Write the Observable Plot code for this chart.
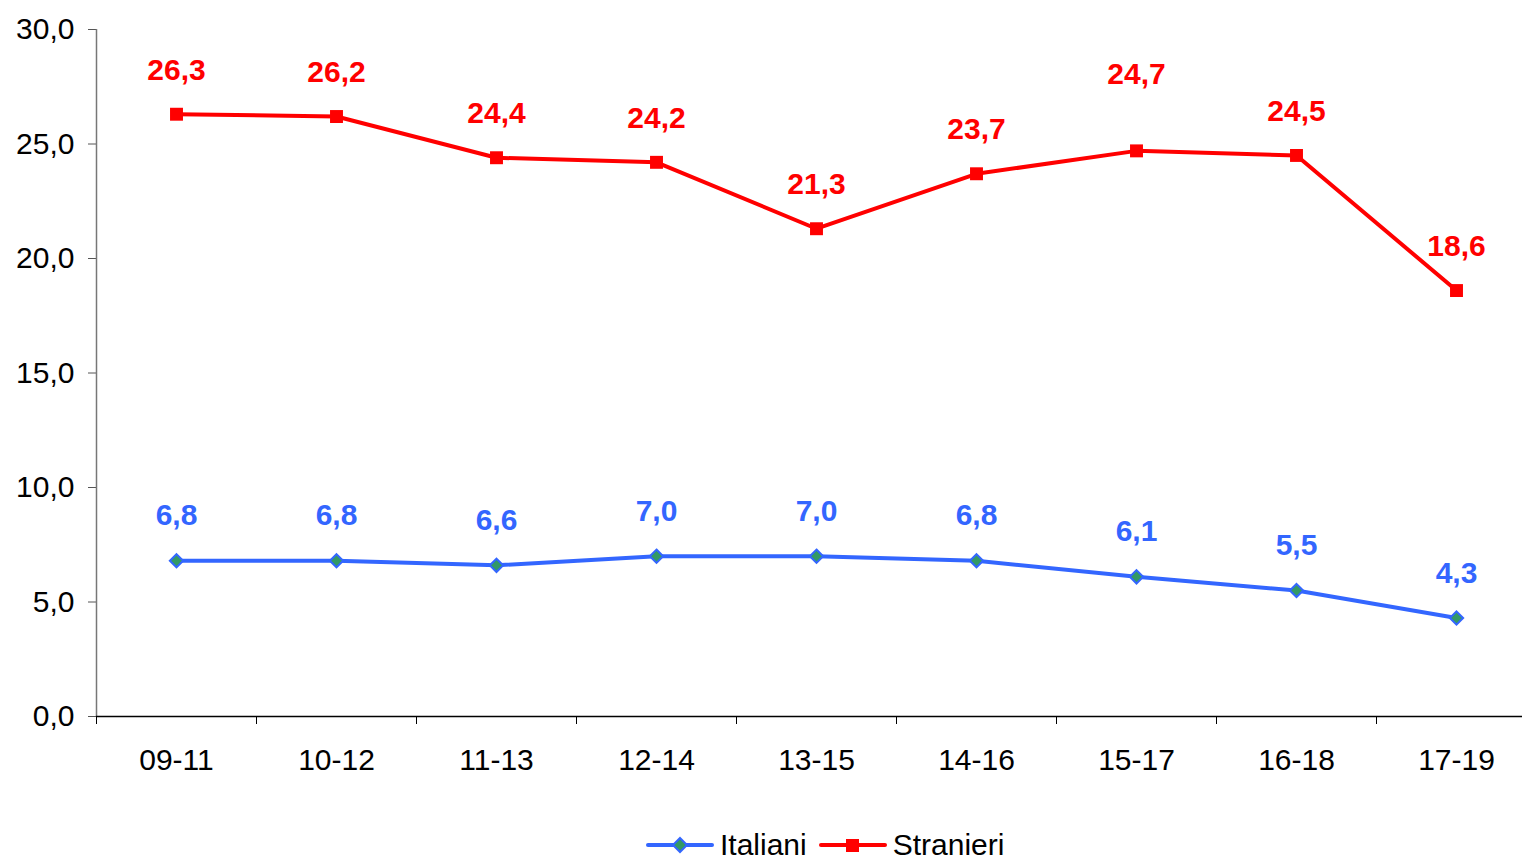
<!DOCTYPE html>
<html>
<head>
<meta charset="utf-8">
<script src="https://cdn.jsdelivr.net/npm/d3@7"></script>
<script src="https://cdn.jsdelivr.net/npm/@observablehq/plot@0.6"></script>
<style>
  body { margin: 0; background: #fff; font-family: "Liberation Sans", Arial, sans-serif; }
  #chart { position: relative; width: 1523px; height: 860px; overflow: hidden; }
  .legend { position: absolute; left: 646px; top: 828px; display: flex; align-items: center; font-size: 30px; color: #000; }
  .legend .item { display: flex; align-items: center; margin-right: 12px; }
  .legend svg { margin-right: 6px; }
</style>
</head>
<body>
<div id="chart"></div>
<script>
const periods = ["09-11", "10-12", "11-13", "12-14", "13-15", "14-16", "15-17", "16-18", "17-19"];
const italiani = [6.8, 6.8, 6.6, 7.0, 7.0, 6.8, 6.1, 5.5, 4.3];
const stranieri = [26.3, 26.2, 24.4, 24.2, 21.3, 23.7, 24.7, 24.5, 18.6];
const yTicks = [0, 5, 10, 15, 20, 25, 30];
const seriesNames = ["Italiani", "Stranieri"];

const blue = "#3366FF";
const red = "#FF0000";
const green = "#339966";

const rows = [];
periods.forEach((p, i) => {
  rows.push({i, period: p, series: seriesNames[0], value: italiani[i]});
  rows.push({i, period: p, series: seriesNames[1], value: stranieri[i]});
});
const it = rows.filter(d => d.series === "Italiani");
const st = rows.filter(d => d.series === "Stranieri");
const fmt = v => v.toFixed(1).replace(".", ",");
// the original chart's plot area runs slightly past the right edge of the picture
const xMax = periods.length - 0.5 - 0.0875;
const boundaries = d3.range(periods.length + 1).map(k => k - 0.5).filter(b => b <= xMax);

const chart = Plot.plot({
  width: 1523,
  height: 800,
  marginLeft: 96,
  marginRight: 1,
  marginTop: 29,
  marginBottom: 84,
  style: {fontFamily: "'Liberation Sans', Arial, sans-serif", fontSize: "30px", color: "#000", background: "#fff"},
  x: {type: "linear", domain: [-0.5, xMax], axis: null},
  y: {domain: [0, 30], axis: null},
  marks: [
    Plot.axisY({ticks: yTicks, tickFormat: fmt, tickSize: 8, tickPadding: 14, stroke: "#555", fontSize: 30, label: null}),
    Plot.ruleX([-0.5], {stroke: "#777", strokeWidth: 1.5}),
    Plot.ruleY([0], {stroke: "#000", strokeWidth: 1.5}),
    Plot.axisX({ticks: boundaries, tickFormat: () => "", tickSize: 8, stroke: "#000", label: null}),
    Plot.axisX({ticks: d3.range(periods.length), tickFormat: i => periods[i], tickSize: 0, tickPadding: 32, fontSize: 30, label: null}),
    Plot.line(it, {x: "i", y: "value", stroke: blue, strokeWidth: 4}),
    Plot.line(st, {x: "i", y: "value", stroke: red, strokeWidth: 4}),
    Plot.dot(it, {x: "i", y: "value", symbol: "diamond2", r: 6, fill: green, stroke: blue, strokeWidth: 2}),
    Plot.dot(st, {x: "i", y: "value", symbol: "square", r: 7.3, fill: red, stroke: red, strokeWidth: 0}),
    Plot.text(it, {x: "i", y: "value", text: d => fmt(d.value), dy: -45, fill: blue, fontWeight: "bold", fontSize: 30}),
    Plot.text(st.filter(d => d.period !== "15-17"), {x: "i", y: "value", text: d => fmt(d.value), dy: -44, fill: red, fontWeight: "bold", fontSize: 30}),
    Plot.text(st.filter(d => d.period === "15-17"), {x: "i", y: "value", text: d => fmt(d.value), dy: -76, fill: red, fontWeight: "bold", fontSize: 30})
  ]
});

const container = document.getElementById("chart");
container.appendChild(chart);

const legend = document.createElement("div");
legend.className = "legend";
legend.innerHTML = `
  <div class="item">
    <svg width="68" height="20"><line x1="2" y1="10" x2="66" y2="10" stroke="${blue}" stroke-width="4" stroke-linecap="round"/>
    <path d="M34,3 L41,10 L34,17 L27,10 Z" fill="${green}" stroke="${blue}" stroke-width="2"/></svg>
    <span>${seriesNames[0]}</span>
  </div>
  <div class="item">
    <svg width="68" height="20"><line x1="2" y1="10" x2="66" y2="10" stroke="${red}" stroke-width="4" stroke-linecap="round"/>
    <rect x="27" y="4" width="13" height="13" fill="${red}"/></svg>
    <span>${seriesNames[1]}</span>
  </div>`;
container.appendChild(legend);
</script>
</body>
</html>
